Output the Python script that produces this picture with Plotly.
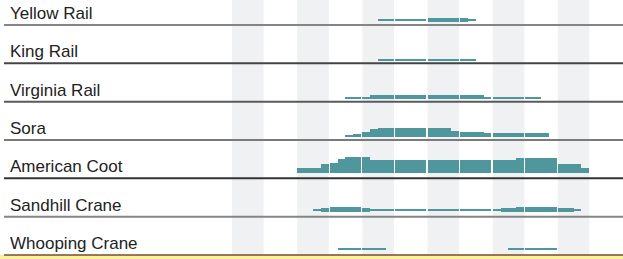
import plotly.graph_objects as go

# ---------------- data ----------------
months = ["Jan", "Feb", "Mar", "Apr", "May", "Jun",
          "Jul", "Aug", "Sep", "Oct", "Nov", "Dec"]
species = ["Yellow Rail", "King Rail", "Virginia Rail", "Sora",
           "American Coot", "Sandhill Crane", "Whooping Crane"]

# weekly abundance (4 weeks per month, Jan..Dec)
yellow_rail = [0, 0, 0, 0,  0, 0, 0, 0,  0, 0, 0, 0,  0, 0, 0, 0,
               0, 0, 1, 1,  2, 2, 2, 2,  4, 4, 4, 4,  4, 2, 0, 0,
               0, 0, 0, 0,  0, 0, 0, 0,  0, 0, 0, 0,  0, 0, 0, 0]
king_rail = [0, 0, 0, 0,  0, 0, 0, 0,  0, 0, 0, 0,  0, 0, 0, 0,
             0, 0, 1, 1,  1, 1, 1, 1,  1, 1, 1, 1,  1, 1, 0, 0,
             0, 0, 0, 0,  0, 0, 0, 0,  0, 0, 0, 0,  0, 0, 0, 0]
virginia_rail = [0, 0, 0, 0,  0, 0, 0, 0,  0, 0, 0, 0,  0, 0, 1, 1,
                 2, 4, 4, 4,  4, 4, 4, 4,  4, 4, 4, 4,  4, 4, 4, 2,
                 2, 1, 1, 1,  1, 1, 0, 0,  0, 0, 0, 0,  0, 0, 0, 0]
sora = [0, 0, 0, 0,  0, 0, 0, 0,  0, 0, 0, 0,  0, 0, 2, 3,
        5, 8, 9, 9,  9, 9, 9, 9,  9, 9, 9, 6,  5, 5, 5, 4,
        4, 4, 4, 4,  4, 4, 4, 0,  0, 0, 0, 0,  0, 0, 0, 0]
american_coot = [0, 0, 0, 0,  0, 0, 0, 0,  5, 5, 5, 9,  10, 14, 16, 16,
                 16, 13, 13, 13,  13, 13, 13, 13,  13, 13, 13, 13,  13, 13, 13, 13,
                 13, 13, 13, 15,  15, 15, 15, 15,  9, 9, 9, 5,  0, 0, 0, 0]
sandhill_crane = [0, 0, 0, 0,  0, 0, 0, 0,  0, 0, 2, 4,  5, 5, 5, 5,
                  4, 2, 2, 2,  1, 1, 1, 1,  1, 1, 1, 1,  1, 1, 1, 1,
                  1, 4, 4, 5,  5, 5, 5, 5,  4, 4, 2, 0,  0, 0, 0, 0]
whooping_crane = [0, 0, 0, 0,  0, 0, 0, 0,  0, 0, 0, 0,  0, 1, 1, 1,
                  1, 1, 1, 0,  0, 0, 0, 0,  0, 0, 0, 0,  0, 0, 0, 0,
                  0, 0, 1, 1,  1, 1, 1, 1,  0, 0, 0, 0,  0, 0, 0, 0]

series = [yellow_rail, king_rail, virginia_rail, sora,
          american_coot, sandhill_crane, whooping_crane]

# ---------------- style / layout ----------------
W, H = 623, 259
PLOT_LEFT = 232
ROW0, ROW_STEP = 25.0, 38.33
WEEK_W = 0.241              # fraction of a month per weekly bar
BAR_COLOR = "#50979d"
BAND_COLOR = "#f0f1f3"
# how bars sit relative to each row line: (mode, offset above line)
row_align = [("middle", 5.0), ("bottom", 3.0), ("bottom", 3.0), ("bottom", 3.3),
             ("bottom", 5.0), ("middle", 6.7), ("bottom", 5.0)]
line_colors = ["#858585", "#444444", "#5a5a5a", "#7a7a7a", "#333333", "#858585"]

fig = go.Figure()

for i, (name, vals) in enumerate(zip(species, series)):
    line_y = ROW0 + ROW_STEP * i
    mode, off = row_align[i]
    xs, ys, bases, widths = [], [], [], []
    for k, v in enumerate(vals):
        if v <= 0:
            continue
        m, w = divmod(k, 4)
        xs.append(m + (w + 0.5) * WEEK_W)
        widths.append(WEEK_W)
        ys.append(-v)
        if mode == "bottom":
            bases.append(line_y - off)
        else:
            bases.append(line_y - off + v / 2.0)
    fig.add_trace(go.Bar(x=xs, y=ys, base=bases, width=widths, name=name,
                         marker=dict(color=BAR_COLOR, line=dict(width=0)),
                         showlegend=False, hoverinfo="skip"))

shapes = []
# alternating month bands
for m in range(0, 12, 2):
    shapes.append(dict(type="rect", xref="x", yref="paper", x0=m, x1=m + 0.97,
                       y0=0, y1=1, fillcolor=BAND_COLOR, line=dict(width=0),
                       layer="below"))
# row lines
for i in range(len(species) - 1):
    y = ROW0 + ROW_STEP * i
    shapes.append(dict(type="line", xref="paper", yref="y", x0=4 / W, x1=1,
                       y0=y, y1=y, line=dict(color=line_colors[i], width=2),
                       layer="above"))
# bottom yellow band with brown rule
last_y = ROW0 + ROW_STEP * (len(species) - 1)
shapes.append(dict(type="rect", xref="paper", yref="y", x0=0, x1=1,
                   y0=last_y, y1=H, fillcolor="#fbf19c", line=dict(width=0),
                   layer="above"))
shapes.append(dict(type="line", xref="paper", yref="y", x0=4 / W, x1=1,
                   y0=last_y, y1=last_y, line=dict(color="#7a4b32", width=1.5),
                   layer="above"))

annotations = []
for i, name in enumerate(species):
    y = ROW0 + ROW_STEP * i
    annotations.append(dict(text=name, xref="paper", yref="y", x=8 / W, y=y - 11.5,
                            xanchor="left", yanchor="middle", showarrow=False,
                            font=dict(family="Arial, Liberation Sans", size=17,
                                      color="#222222")))

fig.update_layout(
    width=W, height=H,
    margin=dict(l=0, r=0, t=0, b=0),
    paper_bgcolor="white", plot_bgcolor="white",
    barmode="overlay", bargap=0,
    xaxis=dict(domain=[PLOT_LEFT / W, 1], range=[0, 12], visible=False, fixedrange=True),
    yaxis=dict(range=[H, 0], visible=False, fixedrange=True),
    shapes=shapes, annotations=annotations,
)

fig.write_html("out.html", config={"displayModeBar": False},
               post_script="document.body.style.margin='0';")
